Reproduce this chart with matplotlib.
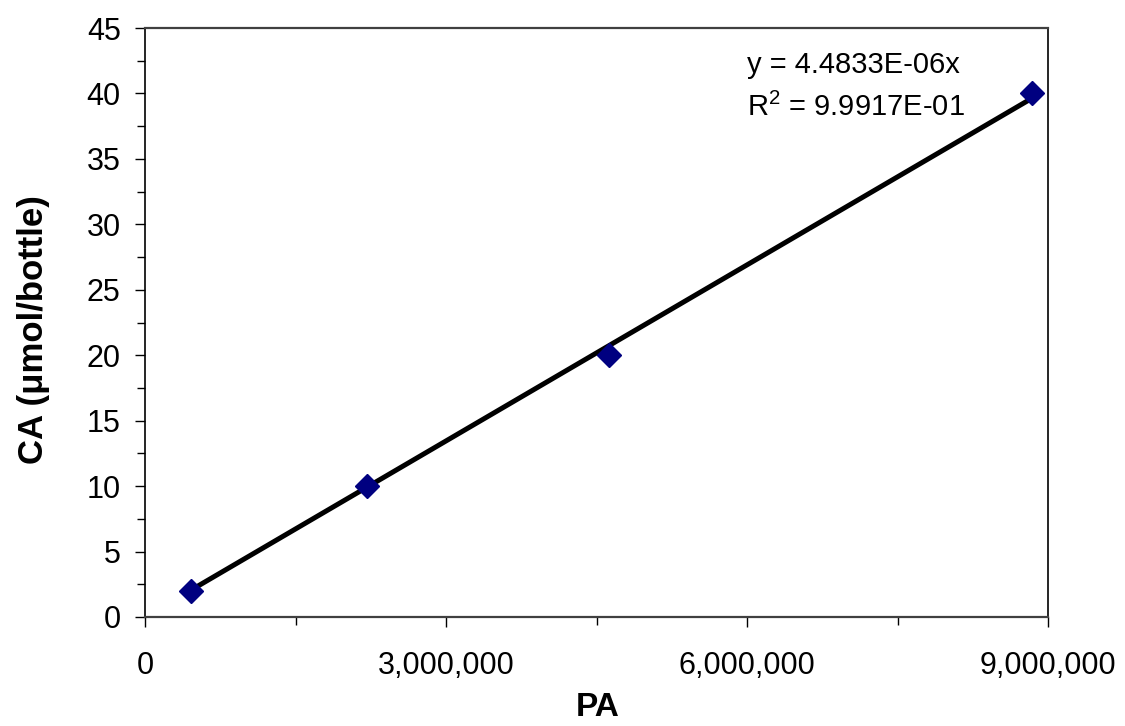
import matplotlib
matplotlib.use("Agg")
import matplotlib.pyplot as plt
from matplotlib.ticker import MultipleLocator, FuncFormatter
import numpy as np

plt.rcParams['font.family'] = ['Liberation Sans', 'DejaVu Sans']
plt.rcParams['mathtext.fontset'] = 'custom'
plt.rcParams['mathtext.rm'] = 'Liberation Sans'

# Data
pa = [455000, 2213000, 4627000, 8843000]
ca = [2, 10, 20, 40]
slope = 4.4833e-06
eq_text = "y = 4.4833E-06x"
r2_text = r"R$^{2}$ = 9.9917E-01"

fig = plt.figure(figsize=(11.25, 7.26), dpi=100)
ax = fig.add_axes([145/1125, 1-617/726, (1048-145)/1125, (617-28)/726])

x_line = np.array([min(pa), max(pa)])
ax.plot(x_line, slope * x_line, color='black', lw=3.6, zorder=2, solid_capstyle='butt')
ax.plot(pa, ca, linestyle='none', marker='D', markersize=12.5, color='#000080',
        markeredgecolor='#000080', zorder=3)

ax.set_xlim(0, 9_000_000)
ax.set_ylim(0, 45)
ax.xaxis.set_major_locator(MultipleLocator(3_000_000))
ax.xaxis.set_minor_locator(MultipleLocator(1_500_000))
ax.yaxis.set_major_locator(MultipleLocator(5))
ax.yaxis.set_minor_locator(MultipleLocator(2.5))
ax.xaxis.set_major_formatter(FuncFormatter(lambda v, p: f"{int(round(v)):,}"))

ax.tick_params(axis='both', which='major', direction='out', length=7.5, width=1,
               labelsize=22, colors='black')
ax.tick_params(axis='x', which='major', pad=17)
ax.tick_params(axis='y', which='major', pad=10)
ax.tick_params(axis='both', which='minor', direction='out', length=6, width=1, colors='black')

for side in ['top', 'bottom']:
    ax.spines[side].set_color('#404040')
    ax.spines[side].set_linewidth(1.6)
for side in ['left', 'right']:
    ax.spines[side].set_color('black')
    ax.spines[side].set_linewidth(1.2)

fig.text(598/1125, 1-716/726, "PA", fontsize=24, fontweight='bold',
         ha='center', va='baseline')
fig.text(50/1125, 1-330/726, "CA (μmol/bottle)", fontsize=25, fontweight='bold',
         ha='right', va='center', rotation=90)

fig.text(747/1125, 1-73/726, eq_text, fontsize=21, ha='left', va='baseline')
fig.text(747/1125, 1-116/726, r2_text, fontsize=21, ha='left', va='baseline')

fig.savefig("out.png", dpi=100)
